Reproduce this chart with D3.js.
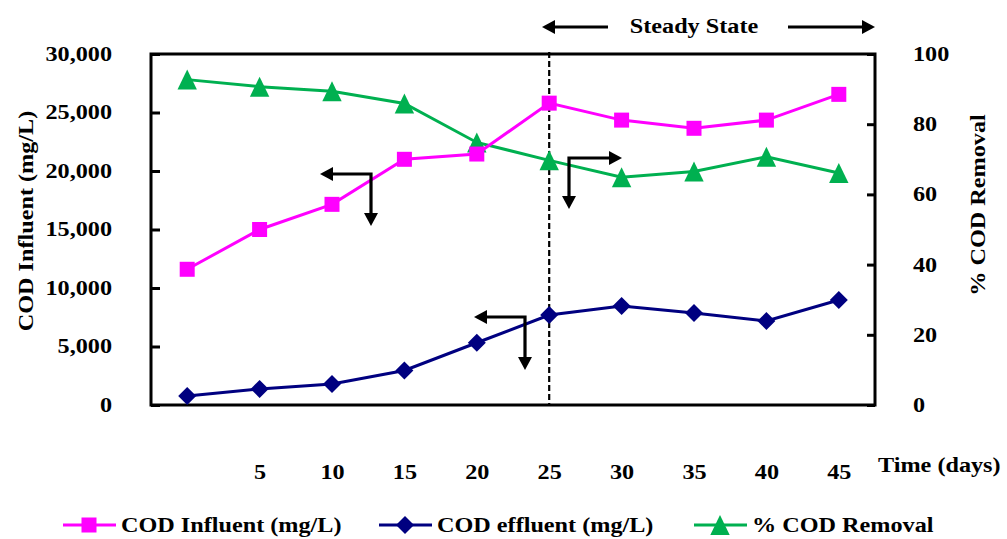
<!DOCTYPE html>
<html><head><meta charset="utf-8">
<script src="https://cdn.jsdelivr.net/npm/d3@7"></script>
<style>
html,body{margin:0;padding:0;background:#fff;}
svg text{font-family:"Liberation Serif","Times New Roman",serif;font-weight:bold;fill:#000;}
</style></head><body>
<svg id="c" width="1007" height="539"></svg>
<script>
const days = [0,5,10,15,20,25,30,35,40,45];
const dayLabels = ["","5","10","15","20","25","30","35","40","45"];
const codInfluent = [11600,15000,17150,21000,21450,25800,24350,23650,24350,26550];
const codEffluent = [770,1370,1800,2950,5320,7690,8460,7860,7180,8970];
const codRemoval = [92.7,90.7,89.4,85.9,74.8,69.7,64.9,66.5,70.7,66.1];
const leftTicks = [0,5000,10000,15000,20000,25000,30000];
const rightTicks = [0,20,40,60,80,100];
const steadyStartDay = 25;

const W=1007,H=539;
const L=151,R=875,T=54,B=405;
const svg=d3.select("#c");
const pink="#ff00ff",navy="#000080",green="#00b050";

const x=d3.scalePoint().domain(days).range([L,R]).padding(0.5);
const yL=d3.scaleLinear().domain([0,30000]).range([B,T]);
const yR=d3.scaleLinear().domain([0,100]).range([B,T]);

// axes
const ax1=svg.append("g").attr("transform",`translate(${L},0)`)
  .call(d3.axisLeft(yL).tickValues(leftTicks).tickSize(-9).tickPadding(39).tickFormat(d3.format(",")));
const ax2=svg.append("g").attr("transform",`translate(${R},0)`)
  .call(d3.axisRight(yR).tickValues(rightTicks).tickSize(-8).tickPadding(38));
[ax1,ax2].forEach(a=>{a.select(".domain").remove();a.selectAll("line").attr("stroke","#000").attr("stroke-width",3);
  a.selectAll("text").attr("font-size",20).attr("font-family",null).style("font-weight","bold");});
const ax3=svg.append("g").attr("transform",`translate(0,${B})`)
  .call(d3.axisBottom(x).tickSize(0).tickPadding(60).tickFormat((d,i)=>dayLabels[i]));
ax3.select(".domain").remove();
ax3.selectAll("text").attr("font-size",20).attr("font-family",null);

// frame
svg.append("rect").attr("x",L).attr("y",T).attr("width",R-L).attr("height",B-T)
  .attr("fill","none").attr("stroke","#000").attr("stroke-width",3);

// dashed line
svg.append("line").attr("x1",x(steadyStartDay)).attr("x2",x(steadyStartDay)).attr("y1",T-2).attr("y2",B)
  .attr("stroke","#000").attr("stroke-width",2.2).attr("stroke-dasharray","6,3");

// series
function series(vals,scale,color,shape){
  const line=d3.line().x((d,i)=>x(days[i])).y(d=>scale(d));
  svg.append("path").datum(vals).attr("d",line).attr("fill","none").attr("stroke",color).attr("stroke-width",3);
  const g=svg.append("g");
  vals.forEach((v,i)=>drawMarker(g,shape,x(days[i]),scale(v),color));
}
function drawMarker(g,shape,cx,cy,color){
  if(shape==="square") g.append("rect").attr("x",cx-7.5).attr("y",cy-7.5).attr("width",15).attr("height",15).attr("fill",color);
  else if(shape==="diamond") g.append("path").attr("d",`M${cx},${cy-9}L${cx+9},${cy}L${cx},${cy+9}L${cx-9},${cy}Z`).attr("fill",color);
  else g.append("path").attr("d",`M${cx},${cy-10}L${cx+9.7},${cy+10}L${cx-9.7},${cy+10}Z`).attr("fill",color);
}
series(codRemoval,yR,green,"triangle");
series(codInfluent,yL,pink,"square");
series(codEffluent,yL,navy,"diamond");

// arrows
function head(x0,y0,dir){ // tip at x0,y0
  const l=13,w=7;let p;
  if(dir==="left") p=`M${x0},${y0}L${x0+l},${y0-w}L${x0+l},${y0+w}Z`;
  if(dir==="right") p=`M${x0},${y0}L${x0-l},${y0-w}L${x0-l},${y0+w}Z`;
  if(dir==="down") p=`M${x0},${y0}L${x0-w},${y0-l}L${x0+w},${y0-l}Z`;
  svg.append("path").attr("d",p).attr("fill","#000");
}
function elbow(cx,cy,hx,vy,hdir){
  svg.append("path").attr("d",`M${hx+(hdir==="left"?8:-8)},${cy}L${cx},${cy}L${cx},${vy-8}`)
    .attr("fill","none").attr("stroke","#000").attr("stroke-width",3.2);
  head(hx,cy,hdir);head(cx,vy,"down");
}
elbow(371,174,320,226,"left");
elbow(525,317,474,370,"left");
elbow(569,158,622,209,"right");

// steady state
svg.append("line").attr("x1",552).attr("x2",608).attr("y1",27).attr("y2",27).attr("stroke","#000").attr("stroke-width",3);
head(542,27,"left");
svg.append("line").attr("x1",788).attr("x2",865).attr("y1",27).attr("y2",27).attr("stroke","#000").attr("stroke-width",3);
head(875,27,"right");
svg.append("text").attr("x",694).attr("y",33).attr("text-anchor","middle").attr("font-size",20).text("Steady State");

// axis titles
svg.append("text").attr("transform","translate(33,221) rotate(-90)").attr("text-anchor","middle").attr("font-size",20).text("COD Influent (mg/L)");
svg.append("text").attr("transform","translate(985,205) rotate(-90)").attr("text-anchor","middle").attr("font-size",20).text("% COD Removal");
svg.append("text").attr("x",878).attr("y",472).attr("font-size",20).text("Time (days)");

// legend
const legend=[["COD Influent (mg/L)",pink,"square",63],["COD effluent (mg/L)",navy,"diamond",379],["% COD Removal",green,"triangle",694]];
const ly=525;
legend.forEach(([t,c,s,lx])=>{
  svg.append("line").attr("x1",lx).attr("x2",lx+53).attr("y1",ly).attr("y2",ly).attr("stroke",c).attr("stroke-width",3);
  drawMarker(svg,s,lx+26,ly,c);
  svg.append("text").attr("x",lx+58).attr("y",ly+7).attr("font-size",20).text(t);
});

// horizontal stretch of all text to match the wide glyphs
svg.selectAll("text").each(function(){
  const t=d3.select(this);
  if(!t.text()) return;
  const len=this.getComputedTextLength();
  t.attr("textLength",len*1.21).attr("lengthAdjust","spacingAndGlyphs");
});
</script></body></html>
